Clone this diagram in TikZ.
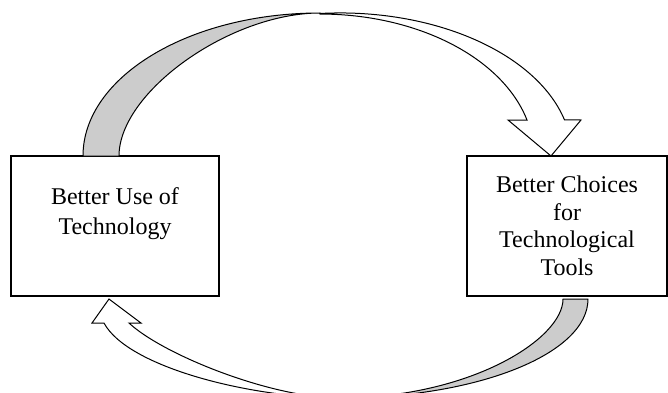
\documentclass[tikz,border=0pt]{standalone}
\usepackage{fontspec}
\setmainfont{Liberation Serif}
\begin{document}
\begin{tikzpicture}[x=1pt,y=1pt,
	box/.style={draw,line width=1.2pt,align=center,inner sep=0pt},
	back/.style={draw,line width=1pt,fill=gray!40,line join=round},
	front/.style={draw,line width=1pt,fill=white}]
\useasboundingbox (0,0) rectangle (668,392);
\node[box,minimum width=208pt,minimum height=140pt,font=\fontsize{24}{30}\selectfont] (use) at (115,166) {Better Use of\\Technology\\\mbox{}};
\node[box,minimum width=200pt,minimum height=140pt,font=\fontsize{24}{27.5}\selectfont] (choices) at (567,166) {Better Choices\\for\\Technological\\Tools};
\draw[back] (83,236) arc[start angle=180,end angle=90,x radius=237pt,y radius=143pt]
	.. controls (230,379) and (119,300) .. (119,236) -- cycle;
\draw[front] (319.8,378.5) arc[start angle=95,end angle=14.6,x radius=232pt,y radius=143pt]
	-- (581,272) -- (551,236) -- (508,272) -- (527,272)
	arc[start angle=14.7,end angle=90,x radius=214pt,y radius=142pt] -- cycle;
\draw[back] (588,93) .. controls (588,38) and (477,-6) .. (340,-6)
	.. controls (470,-6) and (563,53) .. (563,93) -- cycle;
\draw[front] (340,-6) .. controls (250,-6) and (127.5,25) .. (104,69)
	-- (92,69) -- (109,93) -- (141,69) -- (129,69)
	.. controls (162,38) and (270,-6) .. (340,-6) -- cycle;
\end{tikzpicture}
\end{document}
